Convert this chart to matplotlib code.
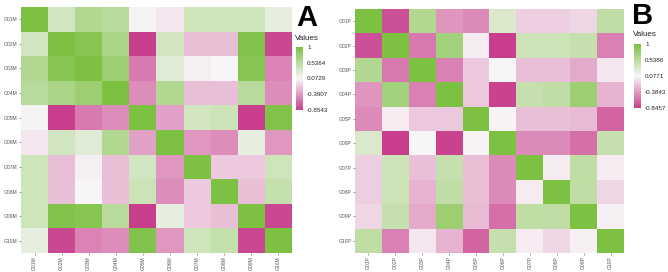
import numpy as np
import matplotlib
matplotlib.use("Agg")
import matplotlib.pyplot as plt
from matplotlib.colors import LinearSegmentedColormap, Normalize
import matplotlib.cm as cm

plt.rcParams['font.family'] = ['Liberation Sans', 'DejaVu Sans']

labels_a = ["G01M", "G02M", "G03M", "G04M", "G05M", "G06M", "G07M", "G08M", "G09M", "G10M"]
labels_b = ["G01P", "G02P", "G03P", "G04P", "G05P", "G06P", "G07P", "G08P", "G09P", "G10P"]

values_a = [
    [1.00, 0.35, 0.60, 0.55, 0.10, 0.00, 0.38, 0.38, 0.38, 0.20],
    [0.35, 1.00, 0.92, 0.65, -0.85, 0.35, -0.20, -0.20, 0.95, -0.80],
    [0.60, 0.92, 1.00, 0.75, -0.55, 0.25, 0.03, 0.07, 0.92, -0.50],
    [0.55, 0.65, 0.75, 1.00, -0.45, 0.60, -0.20, -0.20, 0.55, -0.45],
    [0.10, -0.85, -0.55, -0.45, 1.00, -0.35, 0.35, 0.40, -0.8543, 0.95],
    [0.00, 0.35, 0.25, 0.60, -0.35, 1.00, -0.40, -0.45, 0.20, -0.40],
    [0.38, -0.20, 0.03, -0.20, 0.35, -0.40, 1.00, -0.15, -0.15, 0.38],
    [0.38, -0.20, 0.07, -0.20, 0.40, -0.45, -0.15, 1.00, -0.20, 0.45],
    [0.38, 0.95, 0.92, 0.55, -0.8543, 0.20, -0.15, -0.20, 1.00, -0.80],
    [0.20, -0.80, -0.50, -0.45, 0.95, -0.40, 0.38, 0.45, -0.80, 1.00],
]

values_b = [
    [1.00, -0.75, 0.60, -0.40, -0.45, 0.30, -0.12, -0.12, -0.08, 0.50],
    [-0.75, 1.00, -0.55, 0.70, 0.02, -0.8457, 0.40, 0.40, 0.45, -0.50],
    [0.60, -0.55, 1.00, -0.50, -0.15, 0.08, -0.20, -0.20, -0.30, 0.00],
    [-0.40, 0.70, -0.50, 1.00, -0.15, -0.82, 0.45, 0.50, 0.75, -0.25],
    [-0.45, 0.02, -0.15, -0.15, 1.00, 0.06, -0.20, -0.20, -0.22, -0.65],
    [0.30, -0.8457, 0.08, -0.82, 0.06, 1.00, -0.45, -0.45, -0.60, 0.45],
    [-0.12, 0.40, -0.20, 0.45, -0.20, -0.45, 1.00, 0.02, 0.50, 0.02],
    [-0.12, 0.40, -0.25, 0.50, -0.20, -0.45, 0.02, 1.00, 0.50, -0.08],
    [-0.08, 0.45, -0.30, 0.75, -0.22, -0.60, 0.50, 0.50, 1.00, 0.05],
    [0.50, -0.50, 0.00, -0.25, -0.65, 0.45, 0.02, -0.08, 0.05, 1.00],
]

cbar_ticks_a = [1, 0.5364, 0.0729, -0.3907, -0.8543]
cbar_ticks_b = [1, 0.5386, 0.0771, -0.3843, -0.8457]

cmap = LinearSegmentedColormap.from_list("pg", ["#C83E8C", "#F8F6F8", "#7CC142"])

W, H = 668, 272
fig = plt.figure(figsize=(W / 100, H / 100), dpi=100)


def px_axes(l, t, r, b):
    return fig.add_axes([l / W, (H - b) / H, (r - l) / W, (b - t) / H])


def panel(vals, labels, rect, cbrect, ticks, letter, letter_xy, title_xy):
    data = np.array(vals)
    norm = Normalize(vmin=min(ticks), vmax=max(ticks))
    ax = px_axes(*rect)
    ax.imshow(data, cmap=cmap, norm=norm, aspect='auto', interpolation='nearest')
    ax.set_xticks(range(len(labels)))
    ax.set_yticks(range(len(labels)))
    ax.set_xticklabels(labels, rotation=90, fontsize=3.6, color='#555555')
    ax.set_yticklabels(labels, fontsize=3.6, color='#555555')
    ax.tick_params(length=1.5, width=0.4, color='#555555', pad=1)
    for s in ax.spines.values():
        s.set_visible(False)
    cax = px_axes(*cbrect)
    cb = fig.colorbar(cm.ScalarMappable(norm=norm, cmap=cmap), cax=cax, ticks=ticks)
    cb.outline.set_visible(False)
    cb.ax.set_yticklabels([("%g" % t) for t in ticks])
    cb.ax.tick_params(labelsize=4.5, length=1.5, width=0.4, pad=1.5, colors='#222222')
    cb.ax.tick_params(which='both', color='white')
    fig.text(title_xy[0] / W, 1 - title_xy[1] / H, "Values", fontsize=5.8, ha='left', va='center', color='#222222')
    fig.text(letter_xy[0] / W, 1 - letter_xy[1] / H, letter, fontsize=21, fontweight='bold',
             ha='center', va='center', color='black')


panel(values_a, labels_a, (21, 7, 292, 253), (296, 47, 303, 110), cbar_ticks_a, "A", (307, 18), (295, 38))
panel(values_b, labels_b, (355, 9, 624, 253), (634, 44, 641, 108), cbar_ticks_b, "B", (643, 16), (633, 35))

fig.savefig("out.png", dpi=100)
